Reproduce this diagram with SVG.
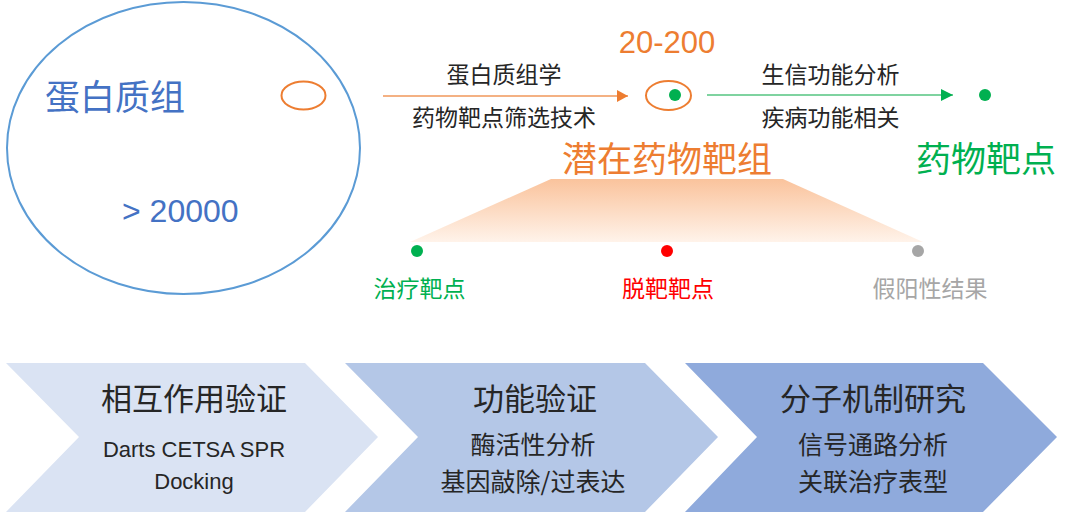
<svg xmlns="http://www.w3.org/2000/svg" width="1080" height="527" viewBox="0 0 1080 527">
<defs>
<style>
.cjk{font-family:"Noto Sans CJK SC","Noto Sans",sans-serif;}
.lat{font-family:"Liberation Sans","Noto Sans CJK SC",sans-serif;}
.dark{fill:#262626;}
.mid{text-anchor:middle;}
</style>
<linearGradient id="trap" x1="0" y1="0" x2="0" y2="1">
<stop offset="0" stop-color="#FAC39C"/>
<stop offset="1" stop-color="#FFF3EA"/>
</linearGradient>
<marker id="arrO" markerUnits="userSpaceOnUse" markerWidth="12" markerHeight="14" refX="11" refY="7" orient="auto">
<path d="M0,1 L11,7 L0,13 Z" fill="#ED7D31"/>
</marker>
<marker id="arrG" markerUnits="userSpaceOnUse" markerWidth="13" markerHeight="14" refX="12" refY="7" orient="auto">
<path d="M0,1 L12,7 L0,13 Z" fill="#00B050"/>
</marker>
</defs>
<rect width="1080" height="527" fill="#FFFFFF"/>

<g id="proteome">
<ellipse cx="183.5" cy="148" rx="176.5" ry="146" fill="none" stroke="#5B9BD5" stroke-width="2"/>
<text x="45" y="110" class="cjk" font-size="35" fill="#4472C4">蛋白质组</text>
<text x="122" y="222" class="lat" font-size="32" fill="#4472C4">&gt; 20000</text>
<ellipse cx="303.5" cy="95.5" rx="22" ry="14" fill="none" stroke="#ED7D31" stroke-width="2"/>
</g>

<g id="candidate">
<text x="667" y="53" class="lat mid" font-size="31" fill="#ED7D31">20-200</text>
<ellipse cx="668.5" cy="95.5" rx="22.5" ry="14.5" fill="none" stroke="#ED7D31" stroke-width="2"/>
<circle cx="675" cy="95" r="6" fill="#00B050"/>
<text x="667" y="172" class="cjk mid" font-size="35" fill="#ED7D31">潜在药物靶组</text>
</g>

<g id="target">
<circle cx="985" cy="95" r="6" fill="#00B050"/>
<text x="986" y="172" class="cjk mid" font-size="35" fill="#00B050">药物靶点</text>
</g>

<g id="breakdown">
<path d="M551,179 L783,179 L923,242 L410,242 Z" fill="url(#trap)"/>
<circle cx="417" cy="251" r="6" fill="#00B050"/>
<circle cx="667" cy="251" r="6" fill="#FF0000"/>
<circle cx="918" cy="251" r="6" fill="#A6A6A6"/>
<text x="419.5" y="297" class="cjk mid" font-size="23" fill="#00B050">治疗靶点</text>
<text x="668" y="297" class="cjk mid" font-size="23" fill="#FF0000">脱靶靶点</text>
<text x="930" y="297" class="cjk mid" font-size="23" fill="#A6A6A6">假阳性结果</text>
</g>

<g id="connectors">
<line x1="383" y1="96" x2="628" y2="96" stroke="#F4B183" stroke-width="2" marker-end="url(#arrO)"/>
<line x1="707" y1="95" x2="953" y2="95" stroke="#7FD3A0" stroke-width="2" marker-end="url(#arrG)"/>
<text x="504" y="83" class="cjk mid dark" font-size="23">蛋白质组学</text>
<text x="504" y="126" class="cjk mid dark" font-size="23">药物靶点筛选技术</text>
<text x="830.5" y="83" class="cjk mid dark" font-size="23">生信功能分析</text>
<text x="830.5" y="126" class="cjk mid dark" font-size="23">疾病功能相关</text>
</g>

<g id="step1">
<path d="M6,363 L305,363 L378,437 L305,512 L6,512 L79,437 Z" fill="#DAE3F3"/>
<text x="194" y="410" class="cjk mid dark" font-size="31">相互作用验证</text>
<text x="194" y="457" class="lat mid dark" font-size="22">Darts CETSA SPR</text>
<text x="194" y="489" class="lat mid dark" font-size="22">Docking</text>
</g>

<g id="step2">
<path d="M345,363 L645,363 L718,437 L645,512 L345,512 L418,437 Z" fill="#B4C7E7"/>
<text x="535" y="410" class="cjk mid dark" font-size="31">功能验证</text>
<text x="533" y="454" class="cjk mid dark" font-size="25">酶活性分析</text>
<text x="533" y="490.5" class="cjk mid dark" font-size="25">基因敲除/过表达</text>
</g>

<g id="step3">
<path d="M685,363 L983,363 L1057,437 L983,512 L685,512 L757,437 Z" fill="#8FAADC"/>
<text x="873" y="410" class="cjk mid dark" font-size="31">分子机制研究</text>
<text x="873" y="454" class="cjk mid dark" font-size="25">信号通路分析</text>
<text x="873" y="490.5" class="cjk mid dark" font-size="25">关联治疗表型</text>
</g>
</svg>
